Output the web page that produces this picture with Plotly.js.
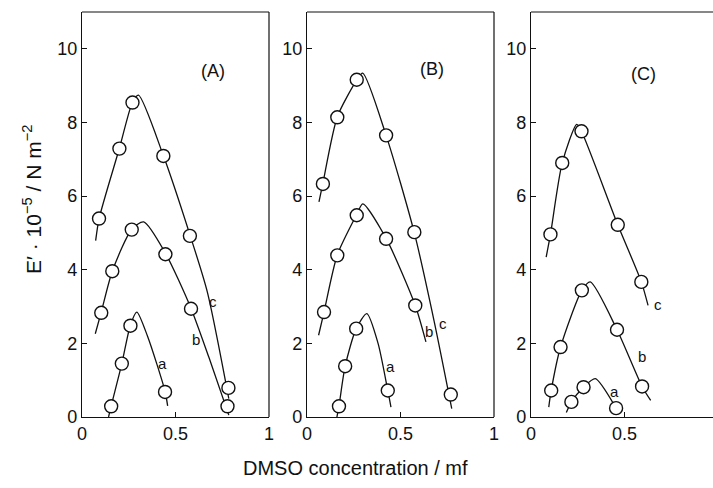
<!DOCTYPE html>
<html><head><meta charset="utf-8">
<script src="https://cdn.plot.ly/plotly-3.0.1.min.js"></script>
<style>html,body{margin:0;padding:0;background:#fff;overflow:hidden}#chart{width:713px;height:488px}</style>
</head><body><div id="chart"></div>
<script>
// Panel A measured points
const A_a_x = [0.156, 0.213, 0.259, 0.444];
const A_a_y = [0.29, 1.45, 2.48, 0.68];
const A_b_x = [0.103, 0.162, 0.266, 0.446, 0.583, 0.778];
const A_b_y = [2.83, 3.96, 5.09, 4.42, 2.94, 0.29];
const A_c_x = [0.091, 0.200, 0.270, 0.435, 0.577, 0.783];
const A_c_y = [5.39, 7.29, 8.54, 7.09, 4.92, 0.79];
// Panel A fitted curves
const A_a_cx = [0.142, 0.156, 0.213, 0.259, 0.293, 0.350, 0.444, 0.458];
const A_a_cy = [0.00, 0.30, 1.45, 2.50, 2.85, 2.20, 0.70, 0.30];
const A_b_cx = [0.071, 0.103, 0.162, 0.266, 0.330, 0.446, 0.583, 0.680, 0.785];
const A_b_cy = [2.26, 2.85, 3.96, 5.10, 5.30, 4.45, 2.95, 1.60, 0.05];
const A_c_cx = [0.073, 0.092, 0.200, 0.270, 0.302, 0.435, 0.577, 0.670, 0.785];
const A_c_cy = [4.79, 5.40, 7.30, 8.55, 8.74, 7.10, 4.95, 3.40, 0.50];

// Panel B measured points
const B_a_x = [0.171, 0.204, 0.263, 0.432];
const B_a_y = [0.29, 1.38, 2.40, 0.72];
const B_b_x = [0.091, 0.162, 0.266, 0.423, 0.579];
const B_b_y = [2.85, 4.39, 5.48, 4.84, 3.03];
const B_c_x = [0.085, 0.162, 0.266, 0.423, 0.574, 0.769];
const B_c_y = [6.33, 8.14, 9.16, 7.65, 5.02, 0.61];
// Panel B fitted curves
const B_a_cx = [0.160, 0.171, 0.204, 0.263, 0.320, 0.380, 0.432, 0.449];
const B_a_cy = [0.00, 0.30, 1.38, 2.40, 2.81, 2.00, 0.72, 0.27];
const B_b_cx = [0.062, 0.091, 0.162, 0.266, 0.298, 0.423, 0.579, 0.636];
const B_b_cy = [2.22, 2.85, 4.40, 5.50, 5.79, 4.85, 3.03, 2.04];
const B_c_cx = [0.064, 0.085, 0.162, 0.266, 0.298, 0.423, 0.574, 0.680, 0.774];
const B_c_cy = [5.84, 6.35, 8.15, 9.15, 9.34, 7.65, 5.00, 2.60, 0.23];

// Panel C measured points
const C_a_x = [0.216, 0.281, 0.455];
const C_a_y = [0.41, 0.81, 0.24];
const C_b_x = [0.108, 0.158, 0.272, 0.460, 0.594];
const C_b_y = [0.72, 1.90, 3.44, 2.37, 0.83];
const C_c_x = [0.104, 0.167, 0.270, 0.464, 0.590];
const C_c_y = [4.96, 6.90, 7.76, 5.22, 3.67];
// Panel C fitted curves
const C_a_cx = [0.189, 0.216, 0.281, 0.344, 0.455, 0.470];
const C_a_cy = [0.12, 0.41, 0.81, 1.04, 0.24, 0.10];
const C_b_cx = [0.095, 0.108, 0.158, 0.272, 0.317, 0.460, 0.594, 0.640];
const C_b_cy = [0.27, 0.72, 1.90, 3.44, 3.67, 2.37, 0.83, 0.45];
const C_c_cx = [0.081, 0.104, 0.167, 0.245, 0.270, 0.464, 0.590, 0.626];
const C_c_cy = [4.34, 4.96, 6.90, 7.95, 7.76, 5.22, 3.67, 3.03];

const xTickVals = [0, 0.5, 1];
const xTickText = ["0", "0.5", "1"];
const xTickValsC = [0, 0.5];
const xTickTextC = ["0", "0.5"];
const yTickVals = [0, 2, 4, 6, 8, 10];
const yTickText = ["0", "2", "4", "6", "8", "10"];
const panelNames = ["(A)", "(B)", "(C)"];

const FONT = "Liberation Sans, Arial, sans-serif";
const traces = [];
function curve(x, y, ax) {
  traces.push({x: x, y: y, xaxis: 'x' + ax, yaxis: 'y' + ax, type: 'scatter', mode: 'lines',
    line: {color: '#111', width: 1.3, shape: 'spline', smoothing: 0.7}, hoverinfo: 'skip', showlegend: false});
}
function pts(x, y, ax) {
  traces.push({x: x, y: y, xaxis: 'x' + ax, yaxis: 'y' + ax, type: 'scatter', mode: 'markers',
    marker: {symbol: 'circle', size: 13, color: '#fff', line: {color: '#111', width: 1.4}}, showlegend: false});
}
curve(A_a_cx, A_a_cy, ''); curve(A_b_cx, A_b_cy, ''); curve(A_c_cx, A_c_cy, '');
pts(A_a_x, A_a_y, ''); pts(A_b_x, A_b_y, ''); pts(A_c_x, A_c_y, '');
curve(B_a_cx, B_a_cy, '2'); curve(B_b_cx, B_b_cy, '2'); curve(B_c_cx, B_c_cy, '2');
pts(B_a_x, B_a_y, '2'); pts(B_b_x, B_b_y, '2'); pts(B_c_x, B_c_y, '2');
curve(C_a_cx, C_a_cy, '3'); curve(C_b_cx, C_b_cy, '3'); curve(C_c_cx, C_c_cy, '3');
pts(C_a_x, C_a_y, '3'); pts(C_b_x, C_b_y, '3'); pts(C_c_x, C_c_y, '3');

function xa(dom, rng, anchor, tv, tt) {
  return {domain: dom, range: rng, anchor: anchor, showgrid: false, zeroline: false, showline: true, linecolor: '#111', linewidth: 1.2,
    mirror: false, ticks: 'inside', ticklen: 5, tickcolor: '#111', tickvals: tv, ticktext: tt,
    tickfont: {family: FONT, size: 18, color: '#111'}, fixedrange: true};
}
function ya(anchor) {
  return {domain: [0, 1], range: [0, 11], anchor: anchor, showgrid: false, zeroline: false, showline: true, linecolor: '#111',
    linewidth: 1.2, mirror: false, ticks: 'inside', ticklen: 5, tickcolor: '#111', tickvals: yTickVals, ticktext: yTickText,
    tickfont: {family: FONT, size: 18, color: '#111'}, fixedrange: true};
}
const ann = [];
function lab(text, x, y, ax, size) {
  ann.push({text: text, x: x, y: y, xref: 'x' + ax, yref: 'y' + ax, showarrow: false,
    font: {family: FONT, size: size, color: '#111'}});
}
lab(panelNames[0], 0.698, 9.4, '', 18); lab(panelNames[1], 0.671, 9.46, '2', 18); lab(panelNames[2], 0.599, 9.32, '3', 18);
lab('a', 0.428, 1.45, '', 15); lab('b', 0.609, 2.1, '', 15); lab('c', 0.698, 3.13, '', 15);
lab('a', 0.449, 1.36, '2', 15); lab('b', 0.654, 2.31, '2', 15); lab('c', 0.725, 2.55, '2', 15);
lab('a', 0.446, 0.68, '3', 15); lab('b', 0.594, 1.63, '3', 15); lab('c', 0.68, 3.05, '3', 15);
ann.push({text: "E\u2032 \u00b7 10<sup>\u22125</sup> / N m<sup>\u22122</sup>", xref: 'paper', yref: 'paper', x: 32 / 713, y: (417 - 200) / 405,
  xanchor: 'center', yanchor: 'middle', textangle: -90, showarrow: false, font: {family: FONT, size: 21, color: '#111'}});
ann.push({text: "DMSO concentration / mf", xref: 'paper', yref: 'paper', x: 355 / 713, y: -(468 - 417) / 405,
  xanchor: 'center', yanchor: 'middle', showarrow: false, font: {family: FONT, size: 20, color: '#111'}});

const domA = [82 / 713, 269 / 713], domB = [307 / 713, 494 / 713], domC = [531 / 713, 1];
const frameLine = {color: '#111', width: 1.2};
function seg(x0, y0, x1, y1) {
  return {type: 'line', xref: 'paper', yref: 'paper', x0: x0, y0: y0, x1: x1, y1: y1, line: frameLine, layer: 'above'};
}
const layout = {
  width: 713, height: 488, margin: {l: 0, r: 0, t: 12, b: 71, pad: 0}, paper_bgcolor: '#fff', plot_bgcolor: '#fff',
  showlegend: false,
  xaxis: xa(domA, [0, 1], 'y', xTickVals, xTickText), yaxis: ya('x'),
  xaxis2: xa(domB, [0, 1], 'y2', xTickVals, xTickText), yaxis2: ya('x2'),
  xaxis3: xa(domC, [0, 182 / 187], 'y3', xTickValsC, xTickTextC), yaxis3: ya('x3'),
  shapes: [
    {type: 'rect', xref: 'paper', yref: 'paper', x0: 709 / 713, x1: 1.01, y0: 0.003, y1: 0.997,
      fillcolor: '#fff', line: {width: 0}, layer: 'above'},
    seg(domA[0], 1, domA[1], 1), seg(domA[1], 0, domA[1], 1),
    seg(domB[0], 1, domB[1], 1), seg(domB[1], 0, domB[1], 1),
    seg(domC[0], 1, domC[1], 1)
  ],
  annotations: ann
};
Plotly.newPlot('chart', traces, layout, {displayModeBar: false, staticPlot: true});
</script></body></html>
